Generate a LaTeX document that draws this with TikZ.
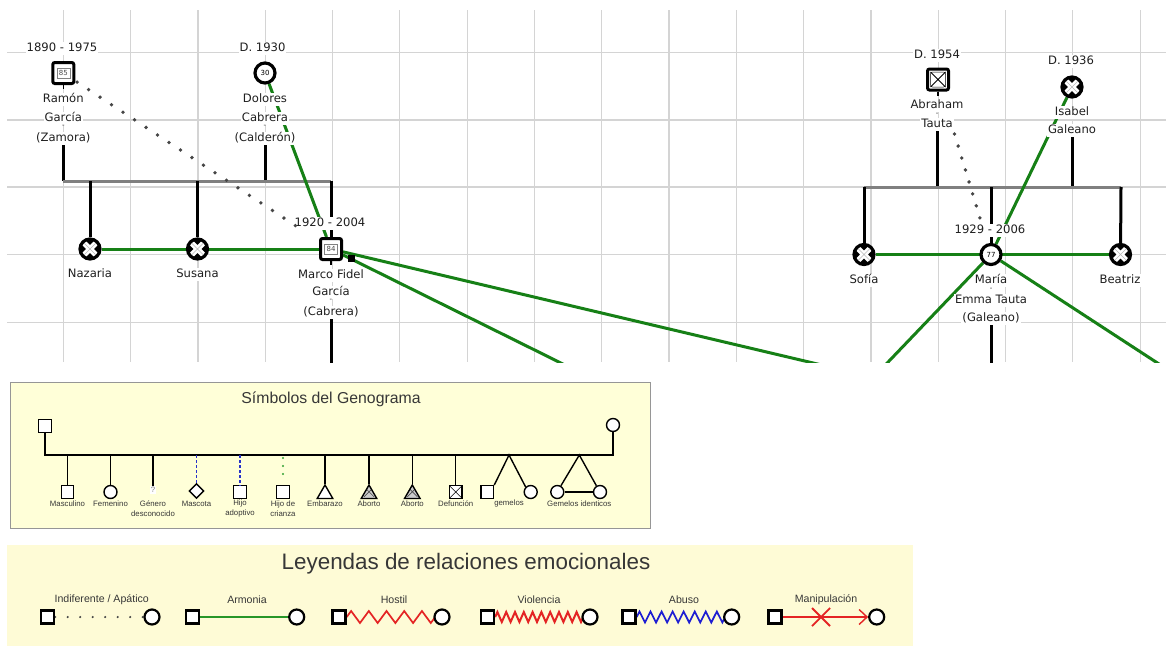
\documentclass[tikz,border=0pt]{standalone}
\usepackage{fontspec}
\setmainfont{Liberation Sans}
\newfontfamily\genfont{DejaVu Sans}
\usetikzlibrary{shapes.geometric,decorations.pathmorphing,arrows.meta}

\definecolor{gridgray}{RGB}{212,212,212}
\definecolor{harmony}{RGB}{22,128,22}
\definecolor{legendgreen}{RGB}{40,150,40}
\definecolor{fostergreen}{RGB}{50,160,50}
\definecolor{panelfill}{RGB}{255,255,216}
\definecolor{panelfilltwo}{RGB}{254,251,214}
\definecolor{framegray}{RGB}{150,150,150}
\definecolor{hostred}{RGB}{228,36,36}
\definecolor{abuseblue}{RGB}{30,30,210}
\definecolor{petblue}{RGB}{40,50,200}
\definecolor{inkgray}{RGB}{55,55,55}
\definecolor{sibgray}{RGB}{128,128,128}
\definecolor{dotgray}{RGB}{70,70,70}

\newcommand\namesize{\genfont\fontsize{11.6}{13}\selectfont}
\newcommand\agesize{\genfont\fontsize{7}{8}\selectfont}
\newcommand\symsize{\fontsize{7.8}{9.8}\selectfont}
\newcommand\relsize{\fontsize{10.6}{12}\selectfont}

\pgfdeclarelayer{gridlayer}
\pgfdeclarelayer{linelayer}
\pgfdeclarelayer{toplayer}
\pgfsetlayers{gridlayer,linelayer,main,toplayer}

\begin{document}
\begin{tikzpicture}[x=1pt,y=-1pt,
  gridline/.style={draw=gridgray, line width=1.2pt},
  kin/.style={draw=black, line width=3pt},
  sibbar/.style={draw=sibgray, line width=3pt},
  harmonyline/.style={draw=harmony, line width=3pt},
  apathy/.style={draw=dotgray, line width=3.8pt, line cap=round, dash pattern=on 0pt off 13.75pt},
  stub/.style={draw=black, line width=1.6pt},
  male/.style={rectangle, draw=black, fill=white, line width=3pt, minimum size=21pt, inner sep=0pt, rounded corners=2pt},
  female/.style={circle, draw=black, fill=white, line width=3.2pt, minimum size=20pt, inner sep=0pt, font=\agesize},
  deadfemale/.style={female, path picture={
      \fill[black] (path picture bounding box.center) circle[radius=9pt];
      \draw[white, line width=5.5pt]
        ([shift={(-7pt,-7pt)}]path picture bounding box.center) -- ([shift={(7pt,7pt)}]path picture bounding box.center)
        ([shift={(-7pt,7pt)}]path picture bounding box.center) -- ([shift={(7pt,-7pt)}]path picture bounding box.center);
      \fill[white] (path picture bounding box.center) circle[radius=3pt];
      \draw[gray!55, line width=0.6pt]
        ([shift={(-7pt,-7pt)}]path picture bounding box.center) -- ([shift={(7pt,7pt)}]path picture bounding box.center)
        ([shift={(-7pt,7pt)}]path picture bounding box.center) -- ([shift={(7pt,-7pt)}]path picture bounding box.center);}},
  deadmale/.style={male, path picture={
      \draw[black, line width=0.8pt]
        ([shift={(3pt,-3pt)}]path picture bounding box.north west) -- ([shift={(-3pt,3pt)}]path picture bounding box.south east)
        ([shift={(3pt,3pt)}]path picture bounding box.south west) -- ([shift={(-3pt,-3pt)}]path picture bounding box.north east);
      \draw[black, line width=0.5pt]
        ([shift={(3pt,-3pt)}]path picture bounding box.north west) rectangle ([shift={(-3pt,3pt)}]path picture bounding box.south east);}},
  agebox/.style={draw=gray, line width=0.5pt, fill=white, inner sep=0.8pt, font=\agesize, text=black!70, minimum width=13pt, minimum height=9.5pt},
  lbl/.style={font=\namesize, fill=white, inner sep=1pt, text height=8.6pt, text depth=2.4pt, text=black!88},
  dashmark/.style={font=\agesize, inner sep=0pt, text=black!80},
  % legend styles
  lkin/.style={draw=black, line width=1.4pt},
  lsq/.style={rectangle, draw=black, fill=white, line width=1.4pt, minimum size=12.5pt, inner sep=0pt},
  lci/.style={circle, draw=black, fill=white, line width=1.4pt, minimum size=13pt, inner sep=0pt},
  ltri/.style={regular polygon, regular polygon sides=3, draw=black, fill=white, line width=1.4pt, minimum size=18pt, inner sep=0pt},
  lxtri/.style={ltri, fill=gray!40, path picture={
      \draw[black!70, line width=0.7pt]
        ([shift={(-5pt,5pt)}]path picture bounding box.center) -- ([shift={(5pt,-5pt)}]path picture bounding box.center)
        ([shift={(-5pt,-5pt)}]path picture bounding box.center) -- ([shift={(5pt,5pt)}]path picture bounding box.center);}},
  lxsq/.style={lsq, path picture={
      \draw[black, line width=0.6pt]
        (path picture bounding box.north west) -- (path picture bounding box.south east)
        (path picture bounding box.south west) -- (path picture bounding box.north east);}},
  symtext/.style={font=\symsize, text=inkgray, align=center, inner sep=0pt},
  petline/.style={draw=petblue, line width=1.6pt, dash pattern=on 3pt off 2pt},
  fosterline/.style={draw=fostergreen, line width=2.4pt, line cap=round, dash pattern=on 0pt off 8pt},
  rsq/.style={rectangle, draw=black, fill=white, line width=2.4pt, minimum size=13pt, inner sep=0pt},
  rci/.style={circle, draw=black, fill=white, line width=2.2pt, minimum size=15pt, inner sep=0pt},
  reltext/.style={font=\relsize, text=inkgray, inner sep=0pt}
]
\useasboundingbox (0,0) rectangle (1166,646);

% ---------- page, grid and panels ----------
\begin{pgfonlayer}{gridlayer}
  \fill[white] (0,0) rectangle (1166,646);
  \begin{scope}
    \clip (7,10) rectangle (1166,362);
    \foreach \k in {0,...,16} \draw[gridline] ({63.3+67.3*\k},10) -- ++(0,352);
    \foreach \yy in {52.5,120,187,254.5,322.3} \draw[gridline] (7,\yy) -- (1166,\yy);
  \end{scope}
  \path[fill=panelfill, draw=framegray, line width=0.9pt] (10,382) rectangle (650,528);
  \path[fill=panelfilltwo] (7,545) rectangle (913,646);
\end{pgfonlayer}

% ---------- García / Cabrera family ----------
\node[male] (ramon) at (63.3,73) {};
\node[agebox] (ramonage) at (ramon.center) {85};
\node[female] (dolores) at (265,73) {30};
\node[deadfemale] (nazaria) at (90,249) {};
\node[deadfemale] (susana) at (197.5,249) {};
\node[male] (marco) at (331,249) {};
\node[agebox] (marcoage) at (marco.center) {84};
\coordinate (barL) at (63.3,181);
\coordinate (barR) at (331,181);
\coordinate (marcodown) at (331,370);
\coordinate (farA) at (847,371);
\coordinate (farB) at (577,371);
\draw[stub] (ramon.south) -- ++(0,4);
\draw[stub] (marco.south) -- ++(0,4);
\fill[black] (348,255) rectangle (355,262);

\node[lbl] (ramonyears) at (62,48) {1890 - 1975};
\node[lbl] (ramonname1) at (63.3,99) {Ramón};
\node[lbl] (ramonname2) at (63.3,118) {García};
\node[dashmark] (ramondash) at (63.3,126.5) {-};
\node[lbl] (ramonname3) at (63.3,138) {(Zamora)};

\node[lbl] (doloresyears) at (262.5,48) {D. 1930};
\node[lbl] (dolname1) at (265,99) {Dolores};
\node[lbl] (dolname2) at (265,118) {Cabrera};
\node[dashmark] (doldash) at (265,126.5) {-};
\node[lbl] (dolname3) at (265,138) {(Calderón)};

\node[lbl] (nazarianame) at (90,274) {Nazaria};
\node[lbl] (susananame) at (197.5,274) {Susana};

\node[lbl] (marcoyears) at (330,223) {1920 - 2004};
\node[lbl] (marconame1) at (331,275) {Marco Fidel};
\node[lbl] (marconame2) at (331,292) {García};
\node[dashmark] (marcodash) at (331,300.5) {-};
\node[lbl] (marconame3) at (331,312) {(Cabrera)};

% ---------- Tauta / Galeano family ----------
\node[deadmale] (abraham) at (938,79.5) {};
\node[deadfemale] (isabel) at (1072,87) {};
\node[deadfemale] (sofia) at (864,254.5) {};
\node[female] (maria) at (991,254.5) {77};
\node[deadfemale] (beatriz) at (1120.5,254.5) {};
\coordinate (barRL) at (864,187);
\coordinate (barRR) at (1121,187);
\coordinate (mariadown) at (991,370);
\coordinate (farC) at (880,370.5);
\coordinate (farD) at (1169,370.5);
\draw[stub] (abraham.south) -- ++(0,4);

\node[lbl] (abrahamyears) at (937,55) {D. 1954};
\node[lbl] (abrahamname1) at (937,105) {Abraham};
\node[dashmark] (abrahamdash) at (937,114.5) {-};
\node[lbl] (abrahamname2) at (937,124) {Tauta};

\node[lbl] (isabelyears) at (1071,61) {D. 1936};
\node[lbl] (isabelname1) at (1072,112) {Isabel};
\node[lbl] (isabelname2) at (1072,130) {Galeano};

\node[lbl] (mariayears) at (990,230) {1929 - 2006};
\node[lbl] (sofianame) at (864,280) {Sofía};
\node[lbl] (marianame1) at (991,280) {María};
\node[dashmark] (mariadash) at (991,289) {-};
\node[lbl] (marianame2) at (991,300) {Emma Tauta};
\node[lbl] (marianame3) at (991,318) {(Galeano)};
\node[lbl] (beatrizname) at (1120,280) {Beatriz};

% ---------- kinship and relation lines ----------
\begin{pgfonlayer}{linelayer}
  \begin{scope}
    \clip (7,10) rectangle (1166,362);
    \draw[kin] (ramonname3.south) -- (ramonname3.south |- barL);
    \draw[kin] (dolname3.south) -- (dolname3.south |- barL);
    \draw[sibbar] (barL) -- (barR);
    \draw[kin] (barL -| nazaria) -- (nazaria);
    \draw[kin] (barL -| susana) -- (susana);
    \draw[kin] (barR) -- (marco);
    \draw[kin] (marconame3.south) -- (marcodown);
    \draw[harmonyline] (nazaria) -- (marco);
    \draw[harmonyline] (dolores) -- (marco);
    \draw[harmonyline] (marco) -- (farA);
    \draw[harmonyline] (marco) -- (farB);

    \draw[kin] (abrahamname2.south) -- (abrahamname2.south |- barRL);
    \draw[kin] (isabelname2.south) -- (isabelname2.south |- barRL);
    \draw[sibbar] (barRL) -- (barRR);
    \draw[kin] (barRL) -- (sofia);
    \draw[kin] (barRL -| maria) -- (maria);
    \draw[kin] (barRR) -- (beatriz);
    \draw[kin] (marianame3.south) -- (mariadown);
    \draw[harmonyline] (sofia) -- (beatriz);
    \draw[harmonyline] (isabel) -- (maria);
    \draw[harmonyline] (maria) -- (farC);
    \draw[harmonyline] (maria) -- (farD);
  \end{scope}
\end{pgfonlayer}

\begin{pgfonlayer}{toplayer}
  \draw[apathy, shorten <=16.5pt, shorten >=29pt] (ramon.center) -- (marco.center);
  \draw[apathy, dash pattern=on 0pt off 12.5pt, shorten <=57pt, shorten >=38pt] (abraham.center) -- (maria.center);
\end{pgfonlayer}

% ---------- symbol panel ----------
\node[font=\fontsize{15.8}{18}\selectfont, text=inkgray] (symtitle) at (331,399.5) {Símbolos del Genograma};

\coordinate (rowbar) at (45,455);
\node[lsq] (pfather) at (45,426) {};
\node[lci] (pmother) at (613,425) {};
\draw[lkin] (pfather.south) -- (rowbar) -- (rowbar -| pmother) -- (pmother.south);

\node[lsq] (smale) at (67.5,492) {};
\node[lci] (sfemale) at (110.5,492) {};
\node[font=\symsize, text=gray, fill=white, inner sep=1pt] (sunknown) at (153,490) {?};
\node[diamond, draw=black, fill=white, line width=1.4pt, minimum size=15pt, inner sep=0pt] (spet) at (196.5,491) {};
\node[lsq] (sadopt) at (240,492) {};
\node[lsq] (sfoster) at (283,492) {};
\node[ltri] (spreg) at (325,494) {};
\node[lxtri] (sabort) at (369,494) {};
\node[lxtri] (sabortb) at (412.3,494) {};
\node[lxsq] (sdeath) at (455.7,492) {};
\node[lsq] (stwina) at (487.3,492) {};
\node[lci] (stwinb) at (530.7,492) {};
\node[lci] (sidta) at (557.3,492) {};
\node[lci] (sidtb) at (600,492) {};
\coordinate (twinapex) at (509,455);
\coordinate (idtapex) at (579.3,455);

\draw[lkin] (rowbar -| smale) -- (smale.north);
\draw[lkin] (rowbar -| sfemale) -- (sfemale.north);
\draw[lkin] (rowbar -| sunknown) -- (sunknown.north);
\draw[petline] (rowbar -| spet) -- (spet.north);
\draw[petline] (rowbar -| sadopt) -- (sadopt.north);
\draw[fosterline] ([yshift=-3pt]rowbar -| sfoster) -- ([yshift=4pt]sfoster.north);
\draw[lkin] (rowbar -| spreg) -- (spreg.corner 1);
\draw[lkin] (rowbar -| sabort) -- (sabort.corner 1);
\draw[lkin] (rowbar -| sabortb) -- (sabortb.corner 1);
\draw[lkin] (rowbar -| sdeath) -- (sdeath.north);
\draw[lkin] (stwina.north east) -- (twinapex) -- (stwinb.north west);
\draw[lkin] (sidta.60) -- (idtapex) -- (sidtb.120);
\draw[lkin] (sidta.east) -- (sidtb.west);

\node[symtext] (tmale) at (67.5,503.5) {Masculino};
\node[symtext] (tfemale) at (110.5,503.5) {Femenino};
\node[symtext] (tunknown) at (153,508.5) {Género\\desconocido};
\node[symtext] (tpet) at (196.5,503.5) {Mascota};
\node[symtext] (tadopt) at (240,508.5) {Hijo\\adoptivo};
\node[symtext] (tfoster) at (283,508.5) {Hijo de\\crianza};
\node[symtext] (tpreg) at (325,503.5) {Embarazo};
\node[symtext] (tabort) at (369,503.5) {Aborto};
\node[symtext] (tabortb) at (412.3,503.5) {Aborto};
\node[symtext] (tdeath) at (455.7,503.5) {Defunción};
\node[symtext] (ttwin) at (509,503.5) {gemelos};
\node[symtext] (tidt) at (579.3,503.5) {Gemelos identicos};

% ---------- emotional relations panel ----------
\node[font=\fontsize{22.4}{26}\selectfont, text=inkgray] (reltitle) at (466,564) {Leyendas de relaciones emocionales};

\node[rsq] (asq) at (47.5,617) {};
\node[rci] (aci) at (152,617) {};
\node[rsq] (hsq) at (192.5,617) {};
\node[rci] (hci) at (296.7,617) {};
\node[rsq] (xsq) at (339,617) {};
\node[rci] (xci) at (442,617) {};
\node[rsq] (vsq) at (487.5,617) {};
\node[rci] (vci) at (590,617) {};
\node[rsq] (bsq) at (629,617) {};
\node[rci] (bci) at (731.7,617) {};
\node[rsq] (msq) at (775,617) {};
\node[rci] (mci) at (876.7,617) {};

\begin{pgfonlayer}{linelayer}
  \draw[draw=dotgray, line width=2.4pt, line cap=round, dash pattern=on 0pt off 12.5pt] (asq.east) -- (aci.west);
  \draw[draw=legendgreen, line width=2.2pt] (hsq.east) -- (hci.west);
  \draw[draw=hostred, line width=1.7pt, decorate, decoration={zigzag, segment length=17.7pt, amplitude=6pt}] (xsq.east) -- ([xshift=2pt]xci.west);
  \draw[draw=hostred, line width=2pt, decorate, decoration={zigzag, segment length=8.8pt, amplitude=5pt}] (vsq.east) -- ([xshift=2pt]vci.west);
  \draw[draw=abuseblue, line width=1.7pt, decorate, decoration={zigzag, segment length=11.05pt, amplitude=5.5pt}] (bsq.east) -- ([xshift=2pt]bci.west);
  \draw[draw=hostred, line width=1.4pt, -{Straight Barb[length=8pt, width=15pt, line width=1.4pt]}] (msq.east) -- (mci.west);
  \draw[draw=hostred, line width=1.8pt] (812,608) -- (830,626) (812,626) -- (830,608);
\end{pgfonlayer}

\node[reltext] (tapathy) at (101.7,600) {Indiferente / Apático};
\node[reltext] (tharmony) at (247,600) {Armonia};
\node[reltext] (thostile) at (394,600) {Hostil};
\node[reltext] (tviolence) at (539,600) {Violencia};
\node[reltext] (tabuse) at (684,600) {Abuso};
\node[reltext] (tmanip) at (826,600) {Manipulación};
\end{tikzpicture}
\end{document}
